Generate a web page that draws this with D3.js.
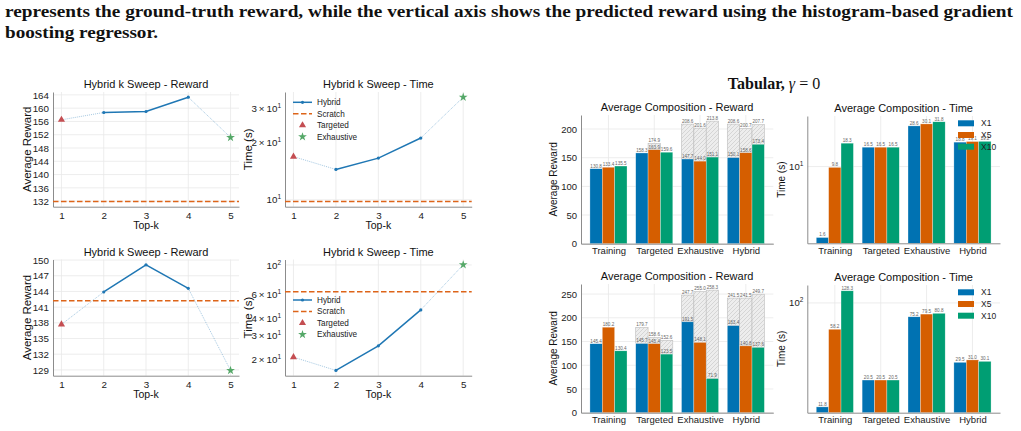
<!DOCTYPE html>
<html>
<head>
<meta charset="utf-8">
<script src="https://cdn.jsdelivr.net/npm/d3@7/dist/d3.min.js"></script>
<style>
  body { margin: 0; background: #fff; }
  svg { display: block; font-family: "Liberation Sans", Arial, sans-serif; }
  .grid { stroke: #e8e8e8; stroke-width: 0.8; }
  .para { font-family: "Liberation Serif", "DejaVu Serif", serif; font-weight: bold; font-size: 17px; fill: #111; }
</style>
</head>
<body>
<svg id="fig" width="1021" height="431"></svg>
<script>

// ---- k sweep (left block) ----
var topK = [1, 2, 3, 4, 5];
var hybridK = [2, 3, 4];

var sweepRewardTop = [158.7, 159.0, 163.3];
var targetedRewardTop = 156.5;
var exhaustiveRewardTop = 151.2;
var scratchRewardTop = 131.9;

var sweepTimeTop = [14.4, 16.5, 21.0];
var targetedTimeTop = 16.8;
var exhaustiveTimeTop = 34.3;
var scratchTimeTop = 9.8;

var sweepRewardBot = [143.9, 149.1, 144.6];
var targetedRewardBot = 137.7;
var exhaustiveRewardBot = 128.9;
var scratchRewardBot = 142.2;

var sweepTimeBot = [16.5, 25.1, 46.4];
var targetedTimeBot = 20.7;
var exhaustiveTimeBot = 100.3;
var scratchTimeBot = 63.4;

var rewardTicksTop = [132, 136, 140, 144, 148, 152, 156, 160, 164];
var rewardTicksBot = [129, 132, 135, 138, 141, 144, 147, 150];
var timeTicksTop = [10, 20, 30];
var timeTicksBot = [20, 30, 40, 60, 100];

var sweepLegend = ["Hybrid", "Scratch", "Targeted", "Exhaustive"];

// ---- average composition (right block) ----
var categories = ["Training", "Targeted", "Exhaustive", "Hybrid"];
var seriesNames = ["X1", "X5", "X10"];

var rewardTopX1 = [130.8, 158.3, 147.7, 150.1];
var rewardTopX5 = [133.4, 163.9, 144.0, 158.6];
var rewardTopX10 = [135.5, 159.6, 151.1, 173.4];
var upperTopX1 = [null, null, 208.6, 208.6];
var upperTopX5 = [null, 174.9, 201.6, 200.7];
var upperTopX10 = [null, null, 213.8, 207.7];

var timeTopX1 = [1.6, 16.5, 28.6, 18.8];
var timeTopX5 = [9.8, 16.5, 30.1, 19.1];
var timeTopX10 = [18.3, 16.5, 31.8, 19.2];

var rewardBotX1 = [145.4, 145.7, 191.5, 183.4];
var rewardBotX5 = [180.2, 145.4, 148.1, 140.8];
var rewardBotX10 = [130.4, 123.5, 71.9, 137.6];
var upperBotX1 = [null, 179.7, 247.7, 241.5];
var upperBotX5 = [null, 158.6, 255.0, 241.5];
var upperBotX10 = [null, 152.6, 258.3, 249.7];

var timeBotX1 = [11.8, 20.5, 75.2, 29.5];
var timeBotX5 = [58.2, 20.5, 79.5, 31.0];
var timeBotX10 = [128.3, 20.5, 80.8, 30.1];

var rewardBarTicksTop = [0, 50, 100, 150, 200];
var rewardBarTicksBot = [0, 50, 100, 150, 200, 250];
var timeBarTicksTop = [10];
var timeBarTicksBot = [100];

var barColors = ["#0072B2", "#D55E00", "#009E73"];
var hybridColor = "#1f77b4", scratchColor = "#dd6419", targetedColor = "#c44e52", exhaustiveColor = "#55a868";

var svg = d3.select("#fig");

// caption text above the figure
svg.append("text").attr("class", "para").attr("x", 5).attr("y", 17)
  .attr("textLength", 1008).attr("lengthAdjust", "spacingAndGlyphs")
  .text("represents the ground-truth reward, while the vertical axis shows the predicted reward using the histogram-based gradient");
svg.append("text").attr("class", "para").attr("x", 5).attr("y", 38)
  .attr("textLength", 153).attr("lengthAdjust", "spacingAndGlyphs")
  .text("boosting regressor.");

var sub = svg.append("text").attr("x", 774).attr("y", 89).attr("text-anchor", "middle")
  .attr("font-family", "'Liberation Serif', serif").attr("font-size", 16).attr("fill", "#111");
sub.append("tspan").attr("font-weight", "bold").text("Tabular, ");
sub.append("tspan").attr("font-style", "italic").text("\u03b3");
sub.append("tspan").text(" = 0");

var defs = svg.append("defs");
var pat = defs.append("pattern").attr("id", "hatch").attr("patternUnits", "userSpaceOnUse")
  .attr("width", 4).attr("height", 4);
pat.append("rect").attr("width", 4).attr("height", 4).attr("fill", "#ededed");
pat.append("path").attr("d", "M-1,1 l2,-2 M0,4 l4,-4 M3,5 l2,-2")
  .attr("stroke", "#c4c4c4").attr("stroke-width", 0.6);

function padLin(vals) {
  var e = d3.extent(vals), m = (e[1] - e[0]) * 0.05;
  return [e[0] - m, e[1] + m];
}
function padLog(vals) {
  var e = d3.extent(vals).map(Math.log10), m = (e[1] - e[0]) * 0.05;
  return [Math.pow(10, e[0] - m), Math.pow(10, e[1] + m)];
}

function logLabel(v) {
  var t = d3.select(this);
  var e = Math.floor(Math.log10(v) + 1e-9), m = Math.round(v / Math.pow(10, e));
  t.text(m === 1 ? "10" : m + "\u2009\u00d7\u200910");
  t.append("tspan").attr("dy", -4).attr("font-size", 6.5).text(e);
}

function styleAxis(ax, size) {
  ax.attr("font-family", null).attr("font-size", size || 9.5);
  ax.select(".domain").attr("stroke", "#8c8c8c").attr("stroke-width", 1);
  ax.selectAll(".tick line").remove();
  ax.selectAll(".tick text").attr("fill", "#222");
}

function frame(g, box, title, ylabel, ylabX, ylabSize, xlabel) {
  g.append("text").attr("x", (box.l + box.r) / 2).attr("y", box.t - 4)
    .attr("text-anchor", "middle").attr("font-size", 11).attr("fill", "#111").text(title);
  g.append("text").attr("transform", "translate(" + ylabX + "," + (box.t + box.b) / 2 + ") rotate(-90)")
    .attr("text-anchor", "middle").attr("dy", "0.35em").attr("font-size", ylabSize).attr("fill", "#111").text(ylabel);
  if (xlabel) {
    g.append("text").attr("x", (box.l + box.r) / 2).attr("y", box.b + 22.5)
      .attr("text-anchor", "middle").attr("font-size", 10.5).attr("fill", "#111").text(xlabel);
  }
}

function sweepChart(box, d) {
  var g = svg.append("g");
  var x = d3.scaleLinear().domain(padLin(topK)).range([box.l, box.r]);
  var all = d.hybrid.concat([d.targeted, d.exhaustive, d.scratch]);
  var y = (d.log ? d3.scaleLog().domain(padLog(all)) : d3.scaleLinear().domain(padLin(all))).range([box.b, box.t]);
  var gridY = d.log ? d.ticks.filter(function(v) { return Math.abs(Math.log10(v) % 1) < 1e-9; }) : d.ticks;

  g.selectAll(null).data(topK).enter().append("line").attr("class", "grid")
    .attr("x1", x).attr("x2", x).attr("y1", box.t).attr("y2", box.b);
  g.selectAll(null).data(gridY).enter().append("line").attr("class", "grid")
    .attr("x1", box.l).attr("x2", box.r).attr("y1", y).attr("y2", y);

  var ay = g.append("g").attr("transform", "translate(" + box.l + ",0)")
    .call(d3.axisLeft(y).tickValues(d.ticks).tickSize(0).tickPadding(4));
  styleAxis(ay, 9.8);
  if (d.log) ay.selectAll(".tick text").each(logLabel);
  var ax = g.append("g").attr("transform", "translate(0," + box.b + ")")
    .call(d3.axisBottom(x).tickValues(topK).tickFormat(d3.format("d")).tickSize(0).tickPadding(5));
  styleAxis(ax, 9.8);

  frame(g, box, d.title, d.ylabel, d.ylabX, 11.5, "Top-k");

  g.append("line").attr("x1", box.l).attr("x2", box.r).attr("y1", y(d.scratch)).attr("y2", y(d.scratch))
    .attr("stroke", scratchColor).attr("stroke-width", 1.5).attr("stroke-dasharray", "5.5,2.5");

  var pts = [[1, d.targeted]].concat(hybridK.map(function(k, i) { return [k, d.hybrid[i]]; }), [[5, d.exhaustive]]);
  var line = d3.line().x(function(p) { return x(p[0]); }).y(function(p) { return y(p[1]); });
  g.append("path").attr("d", line(pts.slice(0, 2))).attr("fill", "none")
    .attr("stroke", hybridColor).attr("stroke-opacity", 0.45).attr("stroke-width", 0.9).attr("stroke-dasharray", "1,1");
  g.append("path").attr("d", line(pts.slice(3))).attr("fill", "none")
    .attr("stroke", hybridColor).attr("stroke-opacity", 0.45).attr("stroke-width", 0.9).attr("stroke-dasharray", "1,1");
  g.append("path").attr("d", line(pts.slice(1, 4))).attr("fill", "none")
    .attr("stroke", hybridColor).attr("stroke-width", 1.5);
  g.selectAll(null).data(pts.slice(1, 4)).enter().append("circle")
    .attr("cx", function(p) { return x(p[0]); }).attr("cy", function(p) { return y(p[1]); })
    .attr("r", 1.6).attr("fill", hybridColor);

  g.append("path").attr("d", d3.symbol(d3.symbolTriangle, 22)())
    .attr("transform", "translate(" + x(1) + "," + y(d.targeted) + ")").attr("fill", targetedColor);
  g.append("path").attr("d", d3.symbol(d3.symbolStar, 24)())
    .attr("transform", "translate(" + x(5) + "," + y(d.exhaustive) + ")").attr("fill", exhaustiveColor);

  if (d.legend) {
    var lg = g.append("g").attr("transform", "translate(" + (box.l + 8) + "," + d.legend + ")");
    var rows = lg.selectAll(null).data(sweepLegend).enter().append("g")
      .attr("transform", function(s, i) { return "translate(0," + i * 11.5 + ")"; });
    rows.append("text").attr("x", 24).attr("dy", "0.35em").attr("font-size", 8.2).attr("fill", "#222").text(function(s) { return s; });
    rows.each(function(s, i) {
      var r = d3.select(this);
      if (i === 0) {
        r.append("line").attr("x2", 19).attr("stroke", hybridColor).attr("stroke-width", 1.5);
        r.append("circle").attr("cx", 9.5).attr("r", 1.6).attr("fill", hybridColor);
      } else if (i === 1) {
        r.append("line").attr("x2", 19).attr("stroke", scratchColor).attr("stroke-width", 1.5).attr("stroke-dasharray", "5.5,2.5");
      } else if (i === 2) {
        r.append("path").attr("d", d3.symbol(d3.symbolTriangle, 22)()).attr("transform", "translate(9.5,0)").attr("fill", targetedColor);
      } else {
        r.append("path").attr("d", d3.symbol(d3.symbolStar, 24)()).attr("transform", "translate(9.5,0)").attr("fill", exhaustiveColor);
      }
    });
  }
}

function compositionChart(box, d) {
  var g = svg.append("g");
  var x = d3.scaleLinear().domain([-0.6, 3.6]).range([box.l, box.r]);
  var series = [d.x1, d.x5, d.x10];
  var all = d3.merge(series.concat(d.upper ? d.upper.map(function(u) { return u.filter(function(v) { return v != null; }); }) : []));
  var y;
  if (d.log) y = d3.scaleLog().domain(padLog(all));
  else y = d3.scaleLinear().domain([0, d3.max(all) * 1.05]);
  y.range([box.b, box.t]);
  var base = box.b;
  var bw = 0.27;
  var idx = categories.map(function(c, i) { return i; });

  g.selectAll(null).data(idx).enter().append("line").attr("class", "grid")
    .attr("x1", x).attr("x2", x).attr("y1", box.t).attr("y2", box.b);
  g.selectAll(null).data(d.ticks).enter().append("line").attr("class", "grid")
    .attr("x1", box.l).attr("x2", box.r).attr("y1", y).attr("y2", y);

  var fmt = d3.format(".1f");
  series.forEach(function(vals, s) {
    var off = (s - 1) * bw;
    if (d.upper) {
      var up = idx.filter(function(i) { return d.upper[s][i] != null; });
      g.selectAll(null).data(up).enter().append("rect")
        .attr("x", function(i) { return x(i + off - bw / 2); })
        .attr("width", x(bw) - x(0))
        .attr("y", function(i) { return y(d.upper[s][i]); })
        .attr("height", function(i) { return y(vals[i]) - y(d.upper[s][i]); })
        .attr("fill", "url(#hatch)").attr("stroke", "#bcbcbc").attr("stroke-width", 0.6);
      g.selectAll(null).data(up).enter().append("text")
        .attr("x", function(i) { return x(i + off); })
        .attr("y", function(i) { return y(d.upper[s][i]) - 1.2; })
        .attr("text-anchor", "middle").attr("font-size", 4.6).attr("fill", "#666")
        .text(function(i) { return fmt(d.upper[s][i]); });
    }
    g.selectAll(null).data(idx).enter().append("rect")
      .attr("x", function(i) { return x(i + off - bw / 2); })
      .attr("width", x(bw) - x(0))
      .attr("y", function(i) { return y(vals[i]); })
      .attr("height", function(i) { return base - y(vals[i]); })
      .attr("fill", barColors[s]).attr("stroke", "#fff").attr("stroke-opacity", 0.6).attr("stroke-width", 0.5);
    g.selectAll(null).data(idx).enter().append("text")
      .attr("x", function(i) { return x(i + off); })
      .attr("y", function(i) { return y(vals[i]) - 1.2; })
      .attr("text-anchor", "middle").attr("font-size", 4.6).attr("fill", "#666")
      .text(function(i) { return fmt(vals[i]); });
  });

  var ay = g.append("g").attr("transform", "translate(" + box.l + ",0)")
    .call(d3.axisLeft(y).tickValues(d.ticks).tickSize(0).tickPadding(4));
  styleAxis(ay);
  if (d.log) ay.selectAll(".tick text").each(logLabel);
  var ax = g.append("g").attr("transform", "translate(0," + box.b + ")")
    .call(d3.axisBottom(x).tickValues(idx).tickFormat(function(i) { return categories[i]; }).tickSize(0).tickPadding(4));
  styleAxis(ax);

  frame(g, box, d.title, d.ylabel, d.ylabX, 10);

  if (d.legend) {
    var lg = g.append("g").attr("transform", "translate(958," + d.legend + ")");
    var rows = lg.selectAll(null).data(seriesNames).enter().append("g")
      .attr("transform", function(s, i) { return "translate(0," + i * 11.7 + ")"; });
    rows.append("rect").attr("y", -3).attr("width", 16).attr("height", 6)
      .attr("fill", function(s, i) { return barColors[i]; });
    rows.append("text").attr("x", 23).attr("dy", "0.35em").attr("font-size", 8.5).attr("fill", "#222")
      .text(function(s) { return s; });
  }
}

sweepChart({l: 53, r: 239, t: 92, b: 206.7}, {
  hybrid: sweepRewardTop, targeted: targetedRewardTop, exhaustive: exhaustiveRewardTop, scratch: scratchRewardTop,
  ticks: rewardTicksTop, title: "Hybrid k Sweep - Reward", ylabel: "Average Reward", ylabX: 26.5
});
sweepChart({l: 285, r: 471.7, t: 92, b: 206.7}, {
  log: true, hybrid: sweepTimeTop, targeted: targetedTimeTop, exhaustive: exhaustiveTimeTop, scratch: scratchTimeTop,
  ticks: timeTicksTop, title: "Hybrid k Sweep - Time", ylabel: "Time (s)", ylabX: 248, legend: 102.3
});
sweepChart({l: 53, r: 239, t: 259.5, b: 375.7}, {
  hybrid: sweepRewardBot, targeted: targetedRewardBot, exhaustive: exhaustiveRewardBot, scratch: scratchRewardBot,
  ticks: rewardTicksBot, title: "Hybrid k Sweep - Reward", ylabel: "Average Reward", ylabX: 26.5
});
sweepChart({l: 285, r: 471.7, t: 259.5, b: 375.7}, {
  log: true, hybrid: sweepTimeBot, targeted: targetedTimeBot, exhaustive: exhaustiveTimeBot, scratch: scratchTimeBot,
  ticks: timeTicksBot, title: "Hybrid k Sweep - Time", ylabel: "Time (s)", ylabX: 248, legend: 300
});

compositionChart({l: 581, r: 773.3, t: 115, b: 243.7}, {
  x1: rewardTopX1, x5: rewardTopX5, x10: rewardTopX10, upper: [upperTopX1, upperTopX5, upperTopX10],
  ticks: rewardBarTicksTop, title: "Average Composition - Reward", ylabel: "Average Reward", ylabX: 553.3
});
compositionChart({l: 807.3, r: 1000, t: 116, b: 243.3}, {
  log: true, x1: timeTopX1, x5: timeTopX5, x10: timeTopX10,
  ticks: timeBarTicksTop, title: "Average Composition - Time", ylabel: "Time (s)", ylabX: 781.7, legend: 123.3
});
compositionChart({l: 581, r: 773.3, t: 284, b: 412.7}, {
  x1: rewardBotX1, x5: rewardBotX5, x10: rewardBotX10, upper: [upperBotX1, upperBotX5, upperBotX10],
  ticks: rewardBarTicksBot, title: "Average Composition - Reward", ylabel: "Average Reward", ylabX: 553.3
});
compositionChart({l: 807.3, r: 1000, t: 285, b: 412.7}, {
  log: true, x1: timeBotX1, x5: timeBotX5, x10: timeBotX10,
  ticks: timeBarTicksBot, title: "Average Composition - Time", ylabel: "Time (s)", ylabX: 781.7, legend: 292.3
});

</script>
</body>
</html>
